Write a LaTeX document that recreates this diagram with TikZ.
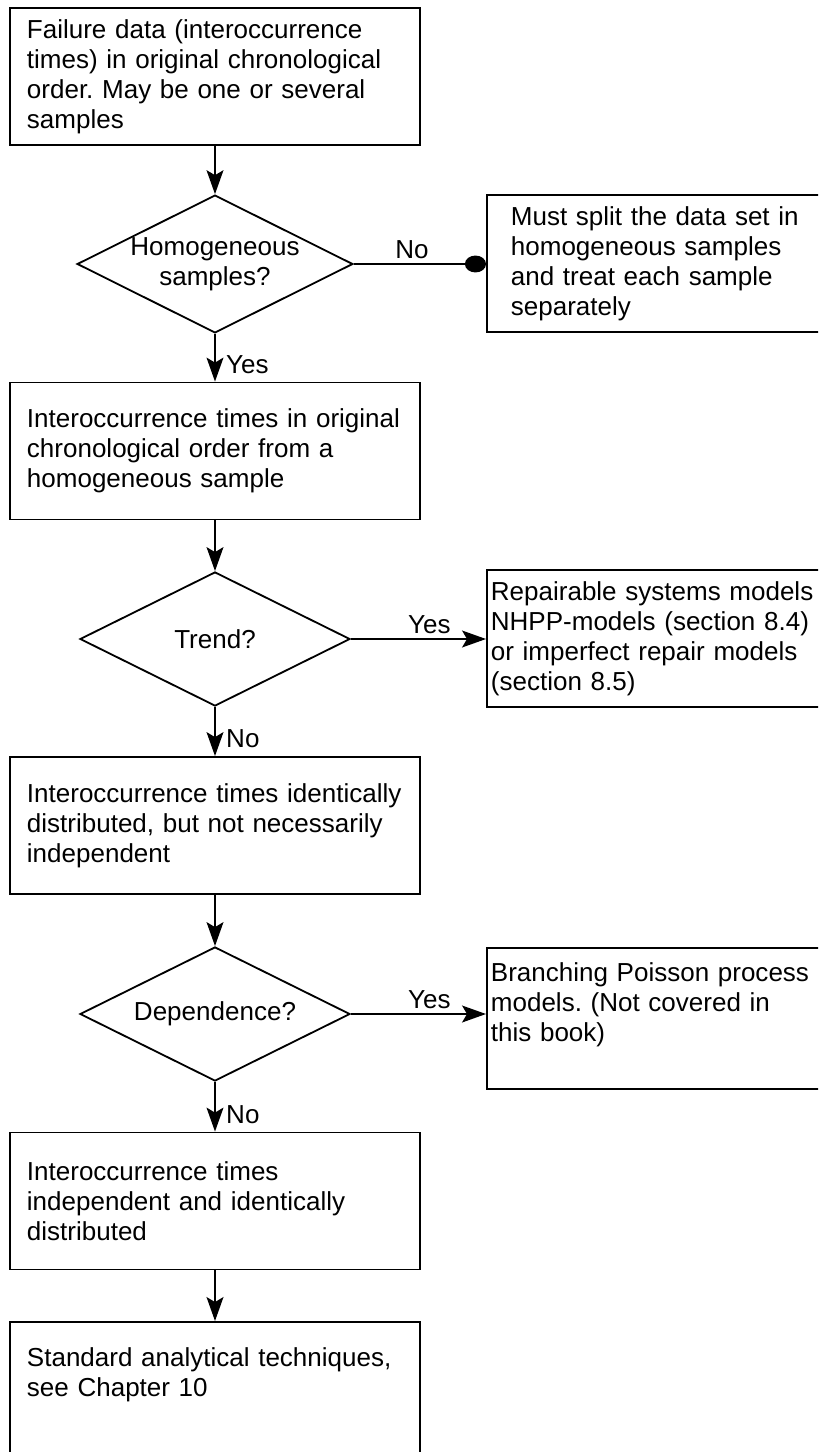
\documentclass[tikz,border=0pt]{standalone}
\usepackage{fontspec}
\setmainfont{Liberation Sans}
\usetikzlibrary{shapes.geometric, arrows.meta}
\frenchspacing

\tikzset{
  box/.style={draw, line width=1.3pt, align=left, text width=9.4cm,
    inner xsep=0.425cm, inner ysep=0.2cm, minimum height=3.425cm},
  sidebox/.style={draw, line width=1.3pt, align=left, anchor=west,
    text width=8.6cm, inner xsep=0.1cm, inner ysep=0.2cm, minimum height=3.425cm},
  decision/.style={draw, diamond, aspect=2, inner sep=0pt, line width=1.3pt,
    minimum width=6.75cm, minimum height=3.35cm, align=center},
  flow/.style={-{Stealth[length=17pt, width=12pt, inset=3.5pt]}, line width=1.3pt},
  reject/.style={-{Circle[length=15pt, width=12pt]}, line width=1.3pt},
  answer/.style={right=4pt, pos=0.65}
}

\begin{document}
\begin{tikzpicture}[x=0.025cm, y=-0.025cm, font=\fontsize{18.5pt}{21.3pt}\selectfont]
\useasboundingbox (0,0) rectangle (818,1452);
\clip (0,0) rectangle (818,1452);

% main column
\node[box] (fail) at (215,76.5) {Failure data (interoccurrence\\times) in original chronological\\order. May be one or several\\samples};
\node[decision] (homog) at (215,264) {Homogeneous\\samples?};
\node[box] (hsample) at (215,451) {Interoccurrence times in original\\chronological order from a\\homogeneous sample};
\node[decision] (trend) at (215,639) {Trend?};
\node[box] (ident) at (215,825.5) {Interoccurrence times identically\\distributed, but not necessarily\\independent};
\node[decision] (depend) at (215,1014) {Dependence?};
\node[box] (iid) at (215,1201) {Interoccurrence times\\independent and identically\\distributed};
\node[box, anchor=north, minimum height=0pt, text height=0.925cm, text depth=3cm] (std) at (215,1321)
  {Standard analytical techniques,\\see Chapter 10};

% side column (runs off the right edge)
\node[sidebox, inner xsep=0.6cm, text width=7.6cm] (split) at (486,263.5) {Must split the data set in\\homogeneous samples\\and treat each sample\\separately};
\node[sidebox] (repair) at (486,638.5) {Repairable systems models\\NHPP-models (section 8.4)\\or imperfect repair models\\(section 8.5)};
\node[sidebox, anchor=north west, minimum height=0pt, text height=0.65cm, text depth=2.475cm] (branch) at (486,947)
  {Branching Poisson process\\models. (Not covered in\\this book)};

% connectors
\draw[flow] (fail) -- (homog);
\draw[reject] (homog.east) -- node[above, pos=0.44] {No} (homog.east -| split.west);
\draw[flow] (homog) -- node[answer] {Yes} (hsample);
\draw[flow] (hsample) -- (trend);
\draw[flow] (trend.east) -- node[above, pos=0.58] {Yes} (trend.east -| repair.west);
\draw[flow] (trend) -- node[answer] {No} (ident);
\draw[flow] (ident) -- (depend);
\draw[flow] (depend.east) -- node[above, pos=0.58] {Yes} (depend.east -| branch.west);
\draw[flow] (depend) -- node[answer] {No} (iid);
\draw[flow] (iid) -- (std);
\end{tikzpicture}
\end{document}
